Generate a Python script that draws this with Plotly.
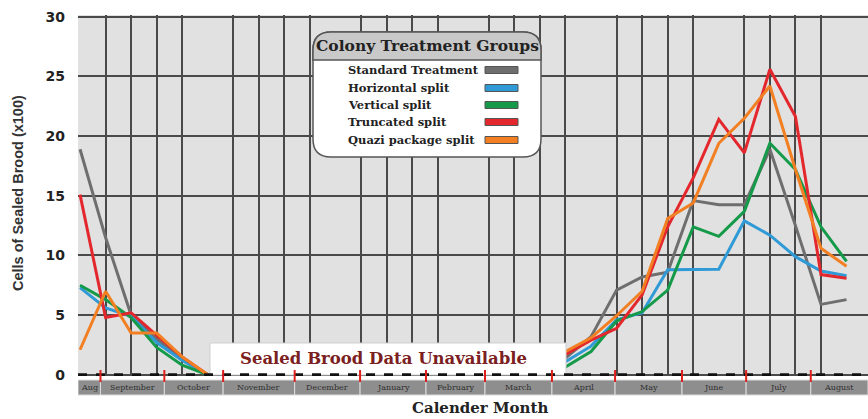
import plotly.graph_objects as go

# ---------------- data ----------------
series_names = ["Standard Treatment", "Horizontal split", "Vertical split",
                "Truncated split", "Quazi package split"]
series_colors = ["#6e6e6e", "#2f9ad6", "#159a4a", "#e3272c", "#f27f22"]

# sample index (roughly 12-day intervals) for the two observed periods
idx_autumn = [0, 1, 2, 3, 4, 5]
idx_spring = [19, 20, 21, 22, 23, 24, 25, 26, 27, 28, 29, 30]

standard_autumn = [18.9, 11.5, 5.0, 3.0, 1.3, 0.0]
standard_spring = [1.4, 3.2, 7.1, 8.2, 8.6, 14.6, 14.25, 14.25, 18.9, 12.5, 5.9, 6.3]
horizontal_autumn = [7.3, 5.6, 4.9, 2.7, 1.2, 0.0]
horizontal_spring = [1.1, 2.4, 4.6, 5.2, 8.8, 8.85, 8.85, 12.9, 11.7, 9.9, 8.7, 8.3]
vertical_autumn = [7.5, 6.3, 4.8, 2.3, 0.8, 0.0]
vertical_spring = [0.65, 1.95, 4.5, 5.3, 7.1, 12.4, 11.6, 13.7, 19.4, 17.2, 12.4, 9.5]
truncated_autumn = [15.1, 4.8, 5.2, 3.3, 1.5, 0.0]
truncated_spring = [1.7, 2.9, 3.9, 6.7, 12.4, 16.5, 21.4, 18.6, 25.6, 21.65, 8.4, 8.1]
quazi_autumn = [2.1, 7.0, 3.5, 3.5, 1.5, 0.0]
quazi_spring = [1.95, 3.1, 4.95, 7.0, 13.1, 14.4, 19.4, 21.5, 24.2, 17.2, 10.6, 9.1]

autumn_values = [standard_autumn, horizontal_autumn, vertical_autumn, truncated_autumn, quazi_autumn]
spring_values = [standard_spring, horizontal_spring, vertical_spring, truncated_spring, quazi_spring]

month_labels = ["Aug", "September", "October", "November", "December", "January",
                "February", "March", "April", "May", "June", "July", "August"]
month_edges = [-0.08, 0.8, 3.3, 5.6, 8.4, 10.96, 13.54, 15.85, 18.47, 20.94, 23.56, 26.07, 28.6, 30.84]

y_ticks = [0, 5, 10, 15, 20, 25, 30]

# ---------------- geometry ----------------
W, H = 868, 419
ML, MR, MT, MB = 78, 0, 15, 43
XR = [-0.08, 30.84]
YR = [-0.1, 30.15]


def px(xp):
    return (xp - ML) / (W - ML - MR)


def py(yp):
    return (H - MB - yp) / (H - MT - MB)


fig = go.Figure()

for name, color, a_vals, s_vals in zip(series_names, series_colors, autumn_values, spring_values):
    fig.add_trace(go.Scatter(
        x=idx_autumn + [None] + idx_spring,
        y=a_vals + [None] + s_vals,
        mode="lines", name=name,
        line=dict(color=color, width=3),
        connectgaps=False, showlegend=False, hoverinfo="skip"))

shapes = []
annotations = []


def note(x, y, text, font, xanchor="center", **kw):
    d = dict(xref="paper", yref="paper", x=x, y=y, text=text, showarrow=False,
             xanchor=xanchor, yanchor="middle", font=font)
    d.update(kw)
    annotations.append(d)


# white "no data" box
shapes.append(dict(type="rect", xref="paper", yref="paper",
                   x0=px(210), x1=px(566), y0=py(343), y1=py(375),
                   fillcolor="white", line=dict(color="#cfcfcf", width=1), layer="above"))
note(px(383), py(358), "Sealed Brood Data Unavailable",
     dict(family="DejaVu Serif", size=16.5, color="#7b2020", weight="bold"))

# axis line at zero (dashed black)
shapes.append(dict(type="line", xref="x", yref="y", x0=XR[0], x1=XR[1], y0=0, y1=0,
                   line=dict(color="#111111", width=3, dash="dash"), layer="above"))

# month strip beneath axis
for i, lab in enumerate(month_labels):
    x0, x1 = month_edges[i], month_edges[i + 1]
    shapes.append(dict(type="rect", xref="x", yref="paper", x0=x0, x1=x1,
                       y0=py(395), y1=py(380), fillcolor="#8e8e8e",
                       line=dict(color="#dcdcdc", width=1)))
    annotations.append(dict(xref="x", yref="paper", x=(x0 + x1) / 2, y=py(387.5),
                            text=lab, showarrow=False, xanchor="center", yanchor="middle",
                            font=dict(family="DejaVu Serif", size=8, color="#2e2e2e")))
for e in month_edges[1:-1]:
    shapes.append(dict(type="line", xref="x", yref="paper", x0=e, x1=e,
                       y0=py(382), y1=py(370), line=dict(color="#e0201c", width=2), layer="above"))


# legend box (rounded)
def rounded_path(x0, y0, x1, y1, r):
    pts = [
        f"M {px(x0 + r)},{py(y0)}",
        f"L {px(x1 - r)},{py(y0)}",
        f"Q {px(x1)},{py(y0)} {px(x1)},{py(y0 + r)}",
        f"L {px(x1)},{py(y1 - r)}",
        f"Q {px(x1)},{py(y1)} {px(x1 - r)},{py(y1)}",
        f"L {px(x0 + r)},{py(y1)}",
        f"Q {px(x0)},{py(y1)} {px(x0)},{py(y1 - r)}",
        f"L {px(x0)},{py(y0 + r)}",
        f"Q {px(x0)},{py(y0)} {px(x0 + r)},{py(y0)} Z",
    ]
    return " ".join(pts)


def top_rounded_path(x0, y0, x1, y1, r):
    pts = [
        f"M {px(x0)},{py(y1)}",
        f"L {px(x0)},{py(y0 + r)}",
        f"Q {px(x0)},{py(y0)} {px(x0 + r)},{py(y0)}",
        f"L {px(x1 - r)},{py(y0)}",
        f"Q {px(x1)},{py(y0)} {px(x1)},{py(y0 + r)}",
        f"L {px(x1)},{py(y1)} Z",
    ]
    return " ".join(pts)


LX0, LY0, LX1, LY1 = 313, 32, 541, 157
shapes.append(dict(type="path", xref="paper", yref="paper",
                   path=rounded_path(LX0, LY0, LX1, LY1, 18),
                   fillcolor="white", line=dict(color="#555555", width=1.5), layer="above"))
shapes.append(dict(type="path", xref="paper", yref="paper",
                   path=top_rounded_path(LX0, LY0, LX1, 60, 18),
                   fillcolor="#c9c9c9", line=dict(color="#555555", width=1.5), layer="above"))
note(px(427), py(46), "Colony Treatment Groups",
     dict(family="DejaVu Serif", size=15.5, color="#222222", weight="bold"))

row_y = [70, 88, 105, 122, 140]
for name, color, ry in zip(series_names, series_colors, row_y):
    note(px(346), py(ry), name,
         dict(family="DejaVu Serif", size=11.5, color="#222222", weight="bold"), xanchor="left")
    shapes.append(dict(type="rect", xref="paper", yref="paper",
                       x0=px(485), x1=px(518), y0=py(ry + 3.5), y1=py(ry - 3.5),
                       fillcolor=color, line=dict(color="#555555", width=1), layer="above"))

# axis titles
note(px(18), py(193), "Cells of Sealed Brood (x100)",
     dict(family="Liberation Sans", size=14.5, color="#333333", weight="bold"), textangle=-90)
note(px(480), py(408), "Calender Month",
     dict(family="DejaVu Serif", size=15, color="#222222", weight="bold"))

fig.update_layout(
    width=W, height=H,
    margin=dict(l=ML, r=MR, t=MT, b=MB, pad=0, autoexpand=False),
    paper_bgcolor="white", plot_bgcolor="#e1e1e1",
    shapes=shapes, annotations=annotations, showlegend=False,
    xaxis=dict(range=XR, showgrid=False, zeroline=False, showticklabels=False,
               ticks="", showline=False,
               minor=dict(tick0=0, dtick=1, showgrid=True, gridcolor="#4a4a4a", gridwidth=2.4)),
    yaxis=dict(range=YR, tickvals=y_ticks, showgrid=True, gridcolor="#4a4a4a", gridwidth=2.4,
               zeroline=False, showline=False, ticks="", ticklabelstandoff=12,
               tickfont=dict(family="DejaVu Sans", size=14, color="#222222", weight="bold")),
)

fig.write_html("out.html", config={"displayModeBar": False},
               post_script="document.body.style.margin='0';document.body.style.overflow='hidden';")
